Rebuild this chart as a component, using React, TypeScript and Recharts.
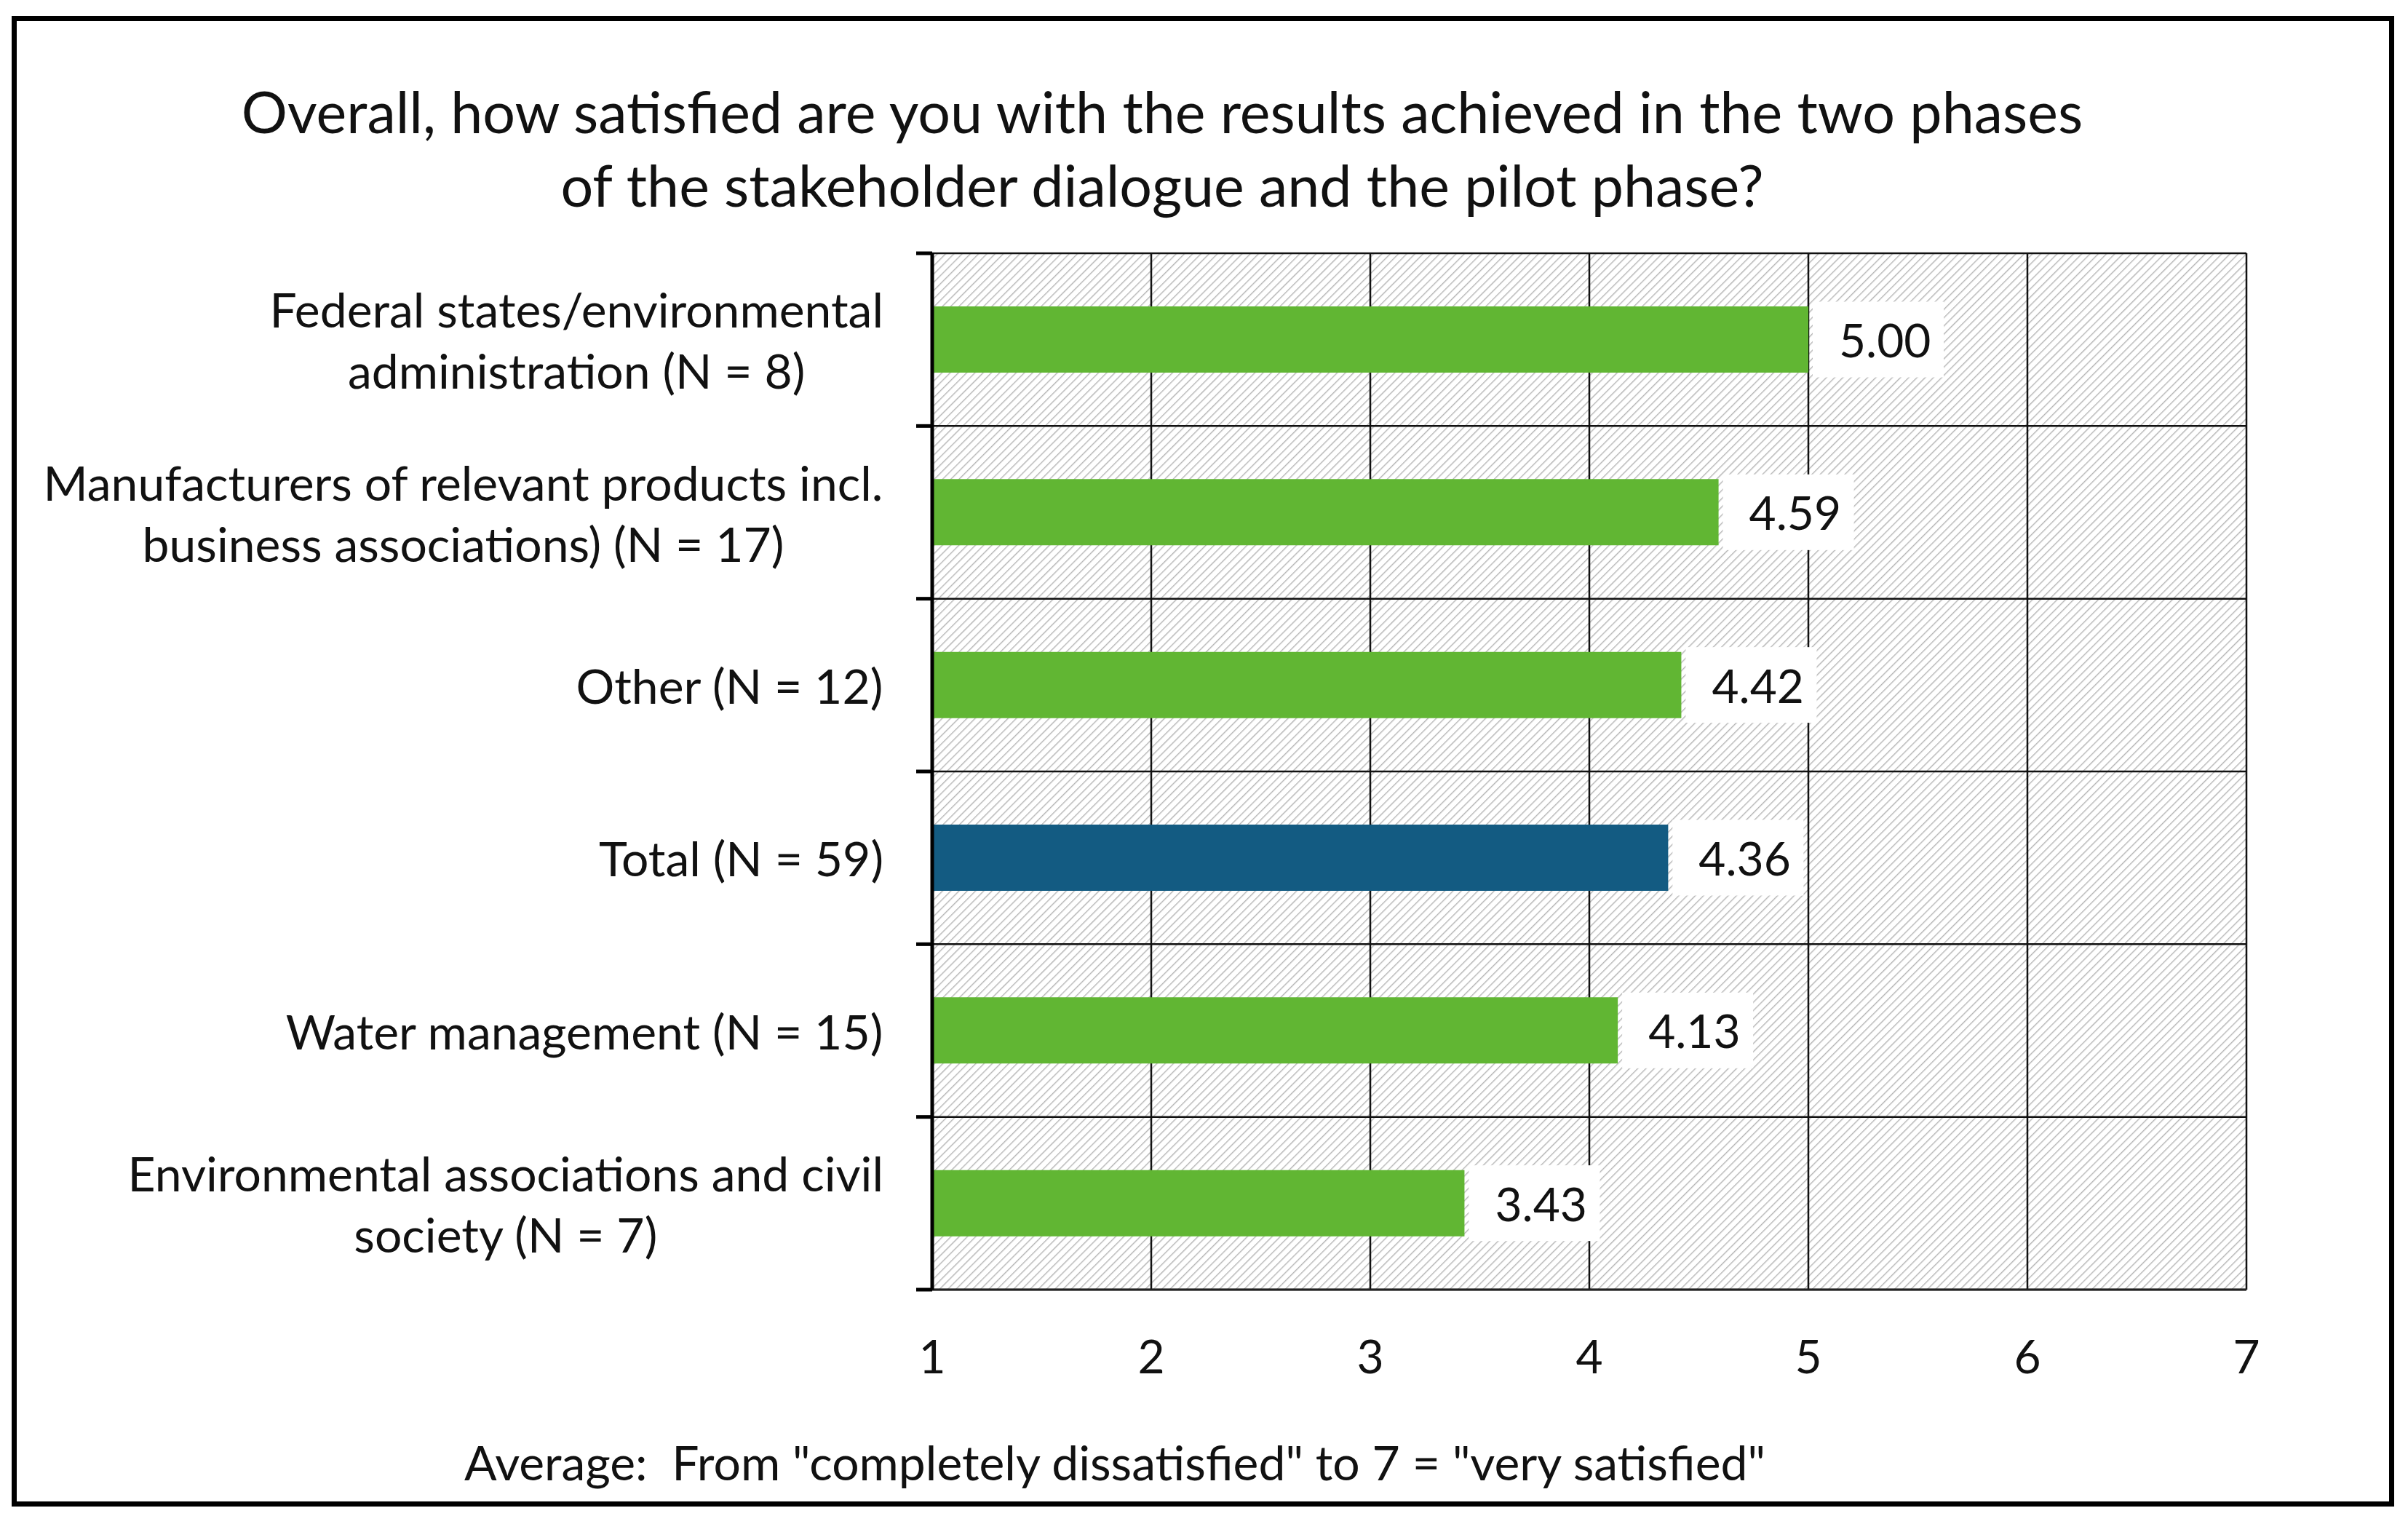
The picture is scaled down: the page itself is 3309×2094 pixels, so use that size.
import React from "react";
import { Bar, BarChart, CartesianGrid, Cell, LabelList, XAxis, YAxis } from "recharts";

const categories = [
  "Federal states/environmental\nadministration (N = 8)",
  "Manufacturers of relevant products incl.\nbusiness associations) (N = 17)",
  "Other (N = 12)",
  "Total (N = 59)",
  "Water management (N = 15)",
  "Environmental associations and civil\nsociety (N = 7)",
];
const averages = [5.0, 4.59, 4.42, 4.36, 4.13, 3.43];
const xTicks = [1, 2, 3, 4, 5, 6, 7];

const titleLines = [
  "Overall, how satisfied are you with the results achieved in the two phases",
  "of the stakeholder dialogue and the pilot phase?",
];
const caption = 'Average:  From "completely dissatisfied" to 7 = "very satisfied"';

const GREEN = "#61b633";
const BLUE = "#135b82";
const FONT = "Lato";
const LABEL_SIZE = 66;
const LABEL_GAP = 67;

const data = categories.map((name, i) => ({ name, value: averages[i] }));

let measureCtx: CanvasRenderingContext2D | null = null;
function textWidth(s: string, size: number) {
  if (!measureCtx) measureCtx = document.createElement("canvas").getContext("2d");
  if (!measureCtx) return s.length * size * 0.5;
  measureCtx.font = `${size}px ${FONT}`;
  return measureCtx.measureText(s).width;
}

// Excel-style: tick marks sit between categories, label block right-aligned with centred lines
function CategoryTick(props: any) {
  const { x, y, payload, index, visibleTicksCount } = props;
  const half = payload.offset || 0;
  const axisX = x + LABEL_GAP;
  const lines = String(payload.value).split("\n");
  const w = Math.max(...lines.map((l) => textWidth(l, LABEL_SIZE)));
  const cx = x - w / 2;
  const step = 84;
  const y0 = y - ((lines.length - 1) * step) / 2;
  return (
    <g>
      <line x1={axisX - 22} x2={axisX} y1={y - half} y2={y - half} stroke="#000" strokeWidth={5} />
      {index === visibleTicksCount - 1 && (
        <line x1={axisX - 22} x2={axisX} y1={y + half} y2={y + half} stroke="#000" strokeWidth={5} />
      )}
      {lines.map((l, i) => (
        <text
          key={i}
          x={cx}
          y={y0 + i * step}
          textAnchor="middle"
          dominantBaseline="central"
          fontFamily={FONT}
          fontSize={LABEL_SIZE}
          fill="#111"
        >
          {l}
        </text>
      ))}
    </g>
  );
}

function ValueLabel(props: any) {
  const vb = props.viewBox || props;
  const end = vb.x + vb.width;
  const mid = vb.y + vb.height / 2;
  return (
    <g>
      <rect x={end + 6} y={mid - 52} width={180} height={104} fill="#fff" />
      <text
        x={end + 42}
        y={mid}
        dominantBaseline="central"
        fontFamily={FONT}
        fontSize={64}
        fill="#111"
      >
        {Number(props.value).toFixed(2)}
      </text>
    </g>
  );
}

// horizontal grid lines on the category boundaries
function bandBoundaries({ yAxis, offset }: any) {
  try {
    const s = yAxis && yAxis.scale;
    const apply =
      typeof s === "function" ? s : s && typeof s.map === "function" ? (v: string) => s.map(v) : null;
    const bw = s && typeof s.bandwidth === "function" ? s.bandwidth() : null;
    if (apply && bw) {
      const starts = categories.map((c) => apply(c)).filter((v: any) => typeof v === "number" && !isNaN(v));
      if (starts.length === categories.length) return [...starts, Math.max(...starts) + bw];
    }
  } catch (e) {
    // fall through
  }
  const h = offset.height / categories.length;
  return categories.map((_, i) => offset.top + i * h).concat(offset.top + offset.height);
}

export default function App() {
  return (
    <div
      style={{
        position: "absolute",
        left: 16,
        top: 22,
        width: 3274,
        height: 2048,
        border: "7px solid #000",
        boxSizing: "border-box",
        background: "#fff",
        fontFamily: FONT,
        color: "#111",
      }}
    >
      <div
        style={{
          position: "absolute",
          left: 0,
          top: 73,
          width: 3148,
          textAlign: "center",
          fontSize: 79,
          lineHeight: "101px",
        }}
      >
        {titleLines[0]}
        <br />
        {titleLines[1]}
      </div>
      <BarChart
        width={3260}
        height={2034}
        data={data}
        layout="vertical"
        margin={{ top: 319, right: 196, bottom: 191, left: 0 }}
      >
        <defs>
          <pattern id="hatch" patternUnits="userSpaceOnUse" width={8} height={8} patternTransform="rotate(45)">
            <rect width={8} height={8} fill="#fff" />
            <line x1={0} y1={0} x2={0} y2={8} stroke="#b5b5b5" strokeWidth={2.8} />
          </pattern>
        </defs>
        <CartesianGrid
          stroke="#111"
          strokeWidth={2.5}
          fill="url(#hatch)"
          fillOpacity={1}
          horizontalCoordinatesGenerator={bandBoundaries}
        />
        <XAxis
          type="number"
          domain={[1, 7]}
          ticks={xTicks}
          interval={0}
          height={100}
          tickLine={false}
          tickSize={0}
          tickMargin={70}
          axisLine={{ stroke: "#222", strokeWidth: 3 }}
          tick={{ fontSize: 64, fontFamily: FONT, fill: "#111" }}
        />
        <YAxis
          type="category"
          dataKey="name"
          width={1258}
          interval={0}
          axisLine={{ stroke: "#000", strokeWidth: 5 }}
          tickLine={false}
          tickSize={0}
          tickMargin={LABEL_GAP}
          tick={<CategoryTick />}
        />
        <Bar dataKey="value" barSize={91} isAnimationActive={false}>
          {data.map((d) => (
            <Cell key={d.name} fill={d.name.startsWith("Total") ? BLUE : GREEN} />
          ))}
          <LabelList dataKey="value" content={<ValueLabel />} />
        </Bar>
      </BarChart>
      <div
        style={{
          position: "absolute",
          left: 0,
          top: 1940,
          width: 3018,
          textAlign: "center",
          fontSize: 66,
          lineHeight: "80px",
          whiteSpace: "pre",
        }}
      >
        {caption}
      </div>
    </div>
  );
}
